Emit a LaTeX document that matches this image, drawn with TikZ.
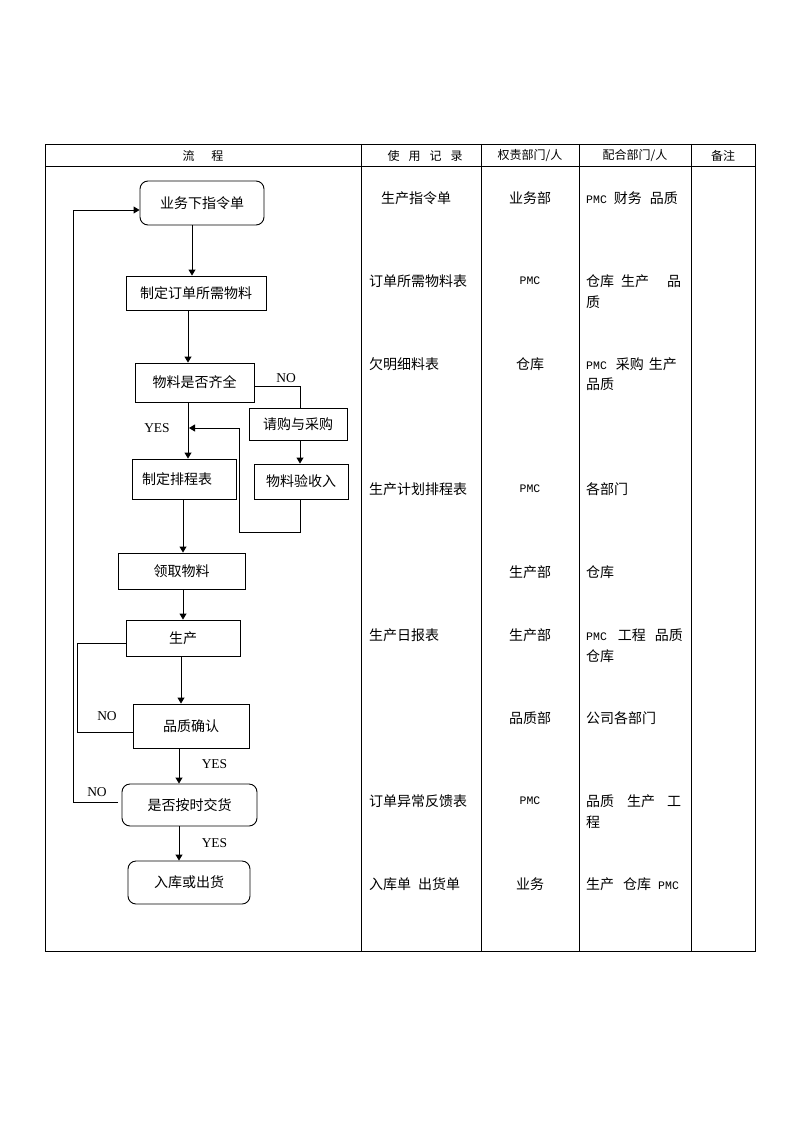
\documentclass[tikz,border=0pt]{standalone}
\usepackage{fontspec}
\setmainfont{Noto Sans CJK SC}
\newfontfamily\latfont{Liberation Serif}
\newfontfamily\pmcfont{Liberation Mono}
\usetikzlibrary{arrows.meta}
\newcommand{\pmc}{{\pmcfont\fontsize{11.5}{14}\selectfont PMC}}

\begin{document}
\begin{tikzpicture}[x=1pt,y=-1pt,
  line/.style={line width=0.9pt},
  proc/.style={draw,line width=0.9pt,inner sep=0pt,font=\fontsize{14}{16}\selectfont},
  rproc/.style={proc,rounded corners=8pt},
  arr/.style={line,-{Triangle[length=6pt,width=7pt]}},
  yn/.style={inner sep=0pt,font=\latfont\fontsize{13.5}{15}\selectfont},
  txt/.style={inner sep=0pt,font=\fontsize{14}{16}\selectfont},
  lt/.style={txt,anchor=west},
  head/.style={inner sep=0pt,font=\fontsize{12}{14}\selectfont}]

\useasboundingbox[fill=white] (0,0) rectangle (794,1123);

% table frame
\draw[line] (45,144) rectangle (755,951);
\draw[line] (45,166) -- (755,166);
\foreach \x in {361,481,579,691}
  \draw[line] (\x,144) -- (\x,951);

% header
\node[head] (h1) at (203,156) {流\hspace{17pt}程};
\node[head] (h2) at (425,156) {使\hspace{9pt}用\hspace{9pt}记\hspace{9pt}录};
\node[head] (h3) at (530,156) {权责部门/人};
\node[head] (h4) at (635,156) {配合部门/人};
\node[head] (h5) at (723,156) {备注};

% flow boxes
\node[rproc,minimum width=124,minimum height=44] (order) at (202,203) {业务下指令单};
\node[proc,minimum width=140,minimum height=34] (mat) at (196,293) {制定订单所需物料};
\node[proc,minimum width=119,minimum height=39] (check) at (194.5,382.5) {物料是否齐全};
\node[proc,minimum width=98,minimum height=32] (buy) at (298,424) {请购与采购};
\node[proc,minimum width=94,minimum height=35] (recv) at (301,481.5) {物料验收入};
\node[proc,minimum width=104,minimum height=40,text width=84,align=left] (plan) at (184,479) {制定排程表};
\node[proc,minimum width=127,minimum height=36] (pick) at (181.5,571) {领取物料};
\node[proc,minimum width=114,minimum height=36] (prod) at (183,638) {生产};
\node[proc,minimum width=116,minimum height=44] (qc) at (191,726) {品质确认};
\node[rproc,minimum width=135,minimum height=42] (ontime) at (189.5,805) {是否按时交货};
\node[rproc,minimum width=122,minimum height=43] (stock) at (189,882.5) {入库或出货};

% line positions
\coordinate (xa) at (192,0);
\coordinate (xb) at (188,0);
\coordinate (xc) at (300,0);
\coordinate (xe) at (183,0);
\coordinate (xf) at (181,0);
\coordinate (xg) at (179,0);
\coordinate (fb) at (239,532);
\coordinate (fbtop) at (239,428);
\coordinate (fbend) at (189,428);
\coordinate (qn1) at (77,732);
\coordinate (qn2) at (77,643);
\coordinate (on1) at (118,802);
\coordinate (on2) at (73,802);
\coordinate (on3) at (73,210);

% connectors
\draw[arr] (xa |- order.south) -- (xa |- mat.north);
\draw[arr] (xb |- mat.south) -- (xb |- check.north);
\draw[arr] (xb |- check.south) -- (xb |- plan.north);
\draw[line] ([yshift=-4pt]check.east) -| (xc |- buy.north);
\draw[arr] (xc |- buy.south) -- (xc |- recv.north);
\draw[arr] (xc |- recv.south) -- (xc |- fb) -- (fb) -- (fbtop) -- (fbend);
\draw[arr] (xe |- plan.south) -- (xe |- pick.north);
\draw[arr] (xe |- pick.south) -- (xe |- prod.north);
\draw[arr] (xf |- prod.south) -- (xf |- qc.north);
\draw[line] (qc.west |- qn1) -- (qn1) -- (qn2) -- (prod.west |- qn2);
\draw[arr] (xg |- qc.south) -- (xg |- ontime.north);
\draw[arr] (xg |- ontime.south) -- (xg |- stock.north);
\draw[arr] (on1) -- (on2) -- (on3) -- (order.west |- on3);

% YES / NO
\node[yn] (no1) at (286,378) {NO};
\node[yn] (yes1) at (157,428) {YES};
\node[yn] (no2) at (107,716) {NO};
\node[yn] (yes2) at (214.5,764) {YES};
\node[yn] (no3) at (97,792) {NO};
\node[yn] (yes3) at (214.5,843) {YES};

% records
\node[txt] (ra) at (416,198) {生产指令单};
\node[lt] (rb) at (369,281) {订单所需物料表};
\node[lt] (rc) at (369,364) {欠明细料表};
\node[lt] (rd) at (369,489) {生产计划排程表};
\node[lt] (re) at (369,635) {生产日报表};
\node[lt] (rf) at (369,801) {订单异常反馈表};
\node[lt] (rg) at (369,884) {入库单\hspace{7pt}出货单};

% responsible
\node[txt] (da) at (530,198) {业务部};
\node[txt] (db) at (530,281) {\pmc};
\node[txt] (dc) at (530,364) {仓库};
\node[txt] (dd) at (530,489) {\pmc};
\node[txt] (de) at (530,572) {生产部};
\node[txt] (df) at (530,635) {生产部};
\node[txt] (dg) at (530,718) {品质部};
\node[txt] (dh) at (530,801) {\pmc};
\node[txt] (di) at (530,884) {业务};

% cooperating
\node[lt] (ca) at (586,198) {\pmc\hspace{7pt}财务\hspace{8pt}品质};
\node[lt] (cb) at (586,281) {仓库\hspace{7pt}生产\hspace{18pt}品};
\node[lt] (cb2) at (586,302) {质};
\node[lt] (cc) at (586,364) {\pmc\hspace{9pt}采购\hspace{5pt}生产};
\node[lt] (cc2) at (586,384) {品质};
\node[lt] (cd) at (586,489) {各部门};
\node[lt] (ce) at (586,572) {仓库};
\node[lt] (cf) at (586,635) {\pmc\hspace{11pt}工程\hspace{9pt}品质};
\node[lt] (cf2) at (586,656) {仓库};
\node[lt] (cg) at (586,718) {公司各部门};
\node[lt] (ch) at (586,801) {品质\hspace{13pt}生产\hspace{12pt}工};
\node[lt] (ch2) at (586,822) {程};
\node[lt] (ci) at (586,884) {生产\hspace{9pt}仓库\hspace{7pt}\pmc};
\end{tikzpicture}
\end{document}
